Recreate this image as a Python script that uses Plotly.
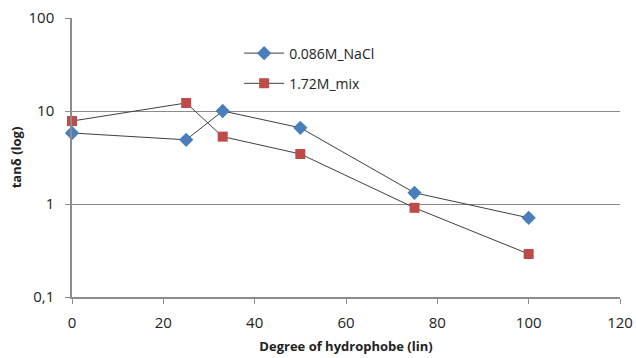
import plotly.graph_objects as go

x_vals = [0, 25, 33, 50, 75, 100]
nacl = [5.8, 4.9, 10.0, 6.6, 1.32, 0.71]
mix = [7.8, 12.2, 5.3, 3.45, 0.91, 0.29]
series_names = ["0.086M_NaCl", "1.72M_mix"]
y_tickvals = [0.1, 1, 10, 100]
y_ticktext = ["0,1", "1", "10", "100"]
x_tickvals = [0, 20, 40, 60, 80, 100, 120]

font_family = "Open Sans, Liberation Sans, sans-serif"

fig = go.Figure()
fig.add_trace(go.Scatter(
    x=x_vals, y=nacl, name=series_names[0], mode="lines+markers",
    line=dict(color="#3f3f3f", width=1),
    marker=dict(symbol="diamond", size=11, color="#4a7ebb"),
    cliponaxis=False, legendgroup="a",
))
fig.add_trace(go.Scatter(
    x=x_vals, y=mix, name=series_names[1], mode="lines+markers",
    line=dict(color="#3f3f3f", width=1),
    marker=dict(symbol="square", size=10, color="#be4b48"),
    cliponaxis=False, legendgroup="b",
))

fig.update_layout(
    width=636, height=358,
    margin=dict(l=72, r=16, t=18, b=61),
    paper_bgcolor="white", plot_bgcolor="white",
    font=dict(family=font_family, size=15, color="#222"),
    showlegend=True,
    legend=dict(x=0.305, y=0.93, xanchor="left", yanchor="top",
                bgcolor="rgba(0,0,0,0)", font=dict(size=14, color="#222"),
                itemwidth=40, traceorder="grouped", tracegroupgap=9),
    xaxis=dict(range=[0, 120], tickvals=x_tickvals, showgrid=False,
               showline=True, linecolor="#8c8c8c", linewidth=1.5,
               ticks="outside", tickcolor="#8c8c8c", ticklen=5,
               ticklabelstandoff=6, automargin=False,
               zeroline=False,
               title=dict(text="<b>Degree of hydrophobe (lin)</b>", font=dict(size=13), standoff=11)),
    yaxis=dict(type="log", range=[-1, 2], tickvals=y_tickvals, ticktext=y_ticktext,
               showgrid=True, gridcolor="#8a8a8a", gridwidth=1.4,
               showline=True, linecolor="#8c8c8c", linewidth=1.5,
               ticks="outside", tickcolor="#8c8c8c", ticklen=5,
               ticklabelstandoff=8, automargin=False,
               zeroline=False,
               title=dict(text="<b>tanδ (log)</b>", font=dict(size=13), standoff=4)),
)

fig.write_html("out.html")
